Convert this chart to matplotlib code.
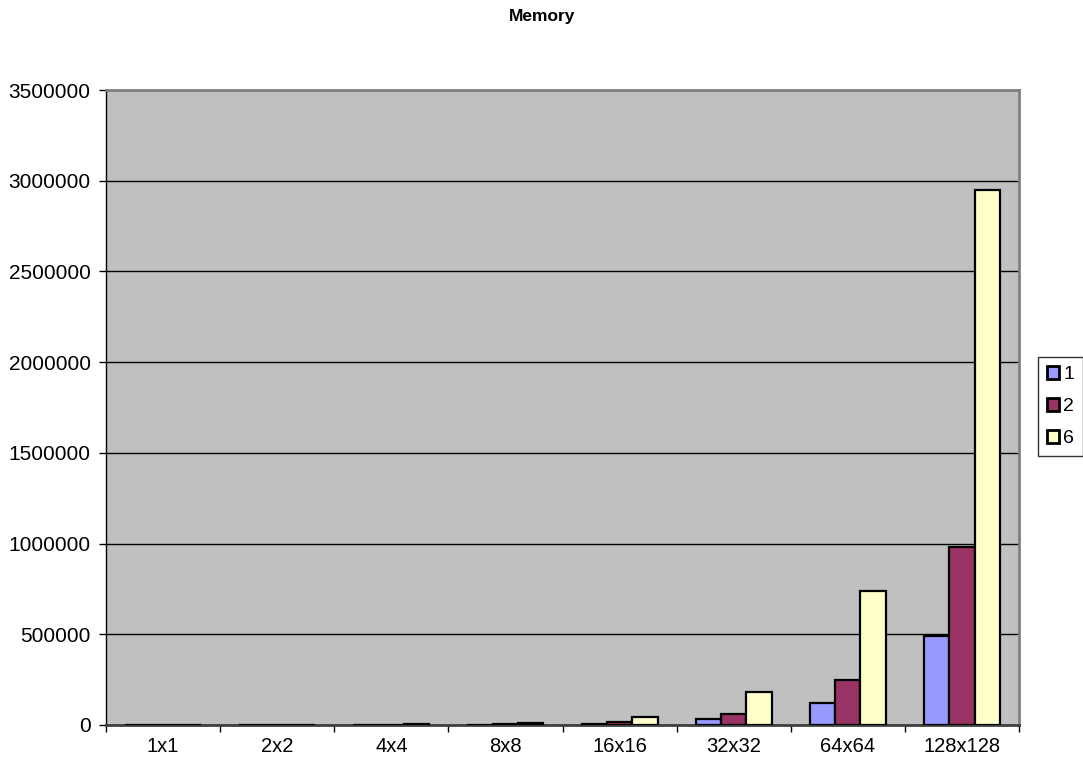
import matplotlib
matplotlib.use("Agg")
import matplotlib.pyplot as plt
import numpy as np
from matplotlib.ticker import FuncFormatter

plt.rcParams['font.family'] = ['Liberation Sans', 'DejaVu Sans']

sizes = ['1x1', '2x2', '4x4', '8x8', '16x16', '32x32', '64x64', '128x128']
series_names = ['1', '2', '6']
mem_1 = [30, 120, 480, 1920, 7680, 30720, 122880, 491520]
mem_2 = [60, 240, 960, 3840, 15360, 61440, 245760, 983040]
mem_6 = [180, 720, 2880, 11520, 46080, 184320, 737280, 2949120]
colors = ['#9999FF', '#993366', '#FFFFCC']

W, H = 1083, 769
fig = plt.figure(figsize=(W / 100, H / 100), dpi=100)
ax = fig.add_axes([106 / W, 1 - 725 / H, 913 / W, 635 / H])
ax.set_facecolor('#C0C0C0')

x = np.arange(len(sizes))
w = 1 / 4.5
for i, (vals, name, c) in enumerate(zip([mem_1, mem_2, mem_6], series_names, colors)):
    ax.bar(x + (i - 1) * w, vals, width=w, color=c, edgecolor='black',
           linewidth=1.6, label=name, zorder=3)

ax.set_xlim(-0.5, len(sizes) - 0.5)
ax.set_ylim(0, 3500000)
ax.set_yticks(np.arange(0, 3500001, 500000))
ax.yaxis.set_major_formatter(FuncFormatter(lambda v, p: '%d' % v))
ax.yaxis.grid(True, color='black', linewidth=1, zorder=1)
ax.set_axisbelow(True)

# category labels centered, ticks on boundaries
ax.set_xticks(x)
ax.set_xticklabels(sizes, fontsize=14.5)
ax.set_xticks(np.arange(-0.5, len(sizes)), minor=True)
ax.tick_params(axis='x', which='major', length=0, pad=9)
ax.tick_params(axis='x', which='minor', length=5, width=1, color='black', direction='out')
ax.tick_params(axis='y', length=5, width=1, direction='out', labelsize=15, pad=6)

for s in ['top', 'right']:
    ax.spines[s].set_color('#808080')
    ax.spines[s].set_linewidth(2)
ax.spines['left'].set_color('black')
ax.spines['left'].set_linewidth(1)
ax.spines['bottom'].set_color('#404040')
ax.spines['bottom'].set_linewidth(2)

fig.text(542 / W, 1 - 17 / H, 'Memory', ha='center', va='center',
         fontsize=12.5, fontweight='bold')

leg = fig.legend(loc='upper left', bbox_to_anchor=(1038 / W, 1 - 357 / H),
                 fontsize=14, frameon=True, fancybox=False, edgecolor='black',
                 handlelength=0.65, handleheight=0.65, handletextpad=0.2,
                 borderpad=0.45, labelspacing=0.75, borderaxespad=0)
leg.get_frame().set_linewidth(1)
for h in leg.legend_handles:
    h.set_linewidth(2)

fig.savefig('out.png', dpi=100)
